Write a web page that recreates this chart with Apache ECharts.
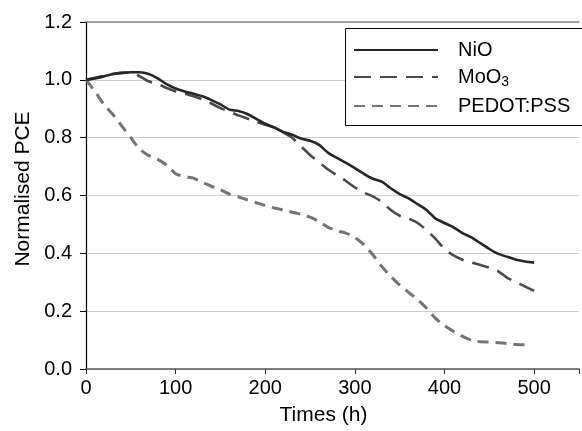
<!DOCTYPE html>
<html>
<head>
<meta charset="utf-8">
<script src="https://cdn.jsdelivr.net/npm/echarts@6/dist/echarts.min.js"></script>
<style>html,body{margin:0;padding:0;background:#fff}#c{width:582px;height:431px}</style>
</head>
<body>
<div id="c"></div>
<script>
var times = [0,10,20,30,40,50,60,70,80,90,100,110,120,130,140,150,160,170,180,190,200,210,220,230,240,250,260,270,280,290,300,310,320,330,340,350,360,370,380,390,400,410,420,430,440,450,460,470,480,490,500];
var nio = [1.0,1.005,1.012,1.02,1.024,1.026,1.026,1.02,1.005,0.985,0.97,0.96,0.952,0.943,0.93,0.915,0.897,0.892,0.882,0.865,0.848,0.835,0.82,0.81,0.797,0.789,0.775,0.748,0.73,0.713,0.695,0.675,0.658,0.648,0.625,0.605,0.59,0.57,0.55,0.52,0.505,0.49,0.47,0.455,0.435,0.415,0.398,0.388,0.378,0.372,0.368];
var moo3 = [1.0,1.007,1.014,1.02,1.024,1.025,1.012,0.995,0.985,0.972,0.96,0.952,0.943,0.932,0.918,0.902,0.89,0.877,0.866,0.855,0.845,0.835,0.818,0.8,0.77,0.74,0.715,0.69,0.67,0.65,0.628,0.61,0.597,0.578,0.55,0.53,0.52,0.505,0.48,0.45,0.415,0.393,0.378,0.368,0.36,0.35,0.338,0.315,0.3,0.285,0.27];
var pedot = [1.0,0.96,0.915,0.88,0.84,0.8,0.76,0.738,0.725,0.705,0.675,0.665,0.66,0.645,0.632,0.62,0.605,0.595,0.585,0.575,0.565,0.557,0.55,0.542,0.535,0.525,0.51,0.49,0.478,0.47,0.455,0.43,0.395,0.355,0.32,0.29,0.265,0.24,0.21,0.175,0.15,0.13,0.113,0.1,0.094,0.093,0.091,0.088,0.085,0.084];
var seriesNames = ['NiO','MoO3','PEDOT:PSS'];
var xTickLabels = ['0','100','200','300','400','500'];
var yTickLabels = ['0.0','0.2','0.4','0.6','0.8','1.0','1.2'];

function pairs(vals){ return vals.map(function(v,i){ return [times[i], v]; }); }

var chart = echarts.init(document.getElementById('c'), null, {renderer:'canvas'});
var font = 'Liberation Sans, Arial, Helvetica, sans-serif';
chart.setOption({
  animation:false,
  backgroundColor:'#fff',
  textStyle:{fontFamily:font},
  grid:{left:86, top:22, width:499, height:349, containLabel:false},
  graphic:[{
    type:'rect', z:6, silent:true,
    shape:{x:345.5, y:28.5, width:260, height:97},
    style:{fill:'#fff', stroke:'#000', lineWidth:1}
  }],
  legend:{
    show:true, z:8,
    orient:'vertical', left:345, top:28,
    padding:[12,10,10,8],
    borderWidth:0, backgroundColor:'transparent',
    itemWidth:84, itemHeight:20, itemGap:7,
    itemStyle:{opacity:0},
    data:seriesNames,
    formatter:function(n){ return n==='MoO3' ? 'MoO{sub|3}' : n; },
    textStyle:{fontSize:20, color:'#000', fontFamily:font, padding:[0,0,0,15],
      rich:{sub:{fontSize:14, verticalAlign:'bottom', padding:[10,0,0,0], fontFamily:font, color:'#000'}}}
  },
  xAxis:[{
    type:'value', min:0, max:550, interval:100,
    name:'Times (h)', nameLocation:'middle', nameGap:36,
    nameTextStyle:{fontSize:21, color:'#000', fontFamily:font, padding:[0,18,0,0]},
    axisLine:{show:true, onZero:false, lineStyle:{color:'#555', width:1.5}},
    axisTick:{show:true, inside:false, length:5, lineStyle:{color:'#333'}},
    axisLabel:{fontSize:20, color:'#000', margin:9, fontFamily:font,
      formatter:function(v){ var s=String(v); return xTickLabels.indexOf(s)>=0 ? s : ''; }},
    splitLine:{show:false}
  },{
    type:'value', min:0, max:550, interval:100, position:'top',
    axisLine:{show:true, onZero:false, lineStyle:{color:'#888', width:1.5}},
    axisTick:{show:false}, axisLabel:{show:false}, splitLine:{show:false}
  }],
  yAxis:{
    type:'value', min:0, max:1.2, interval:0.2,
    name:'Normalised PCE', nameLocation:'middle', nameGap:52, nameRotate:90,
    nameTextStyle:{fontSize:21, color:'#000', fontFamily:font, padding:[0,0,0,13]},
    axisLine:{show:true, lineStyle:{color:'#000', width:1.2}},
    axisTick:{show:true, length:6, lineStyle:{color:'#000'}},
    axisLabel:{fontSize:20, color:'#000', margin:14, fontFamily:font,
      formatter:function(v){ return yTickLabels[Math.round(v/0.2)] || ''; }},
    splitLine:{show:true, lineStyle:{color:'#cfcfcf', width:1.2}}
  },
  series:[
    {name:'NiO', type:'line', xAxisIndex:0, data:pairs(nio), showSymbol:false, symbol:'none', smooth:0.2,
      lineStyle:{color:'#262626', width:2.6, type:'solid'}, itemStyle:{color:'#262626'}, z:5},
    {name:'MoO3', type:'line', xAxisIndex:0, data:pairs(moo3), showSymbol:false, symbol:'none', smooth:0.2,
      lineStyle:{color:'#4a4a4a', width:2.6, type:[17,9]}, itemStyle:{color:'#4a4a4a'}, z:4},
    {name:'PEDOT:PSS', type:'line', xAxisIndex:0, data:pairs(pedot), showSymbol:false, symbol:'none', smooth:0.2,
      lineStyle:{color:'#747474', width:3, type:[11,7]}, itemStyle:{color:'#747474'}, z:3}
  ]
});
</script>
</body>
</html>
